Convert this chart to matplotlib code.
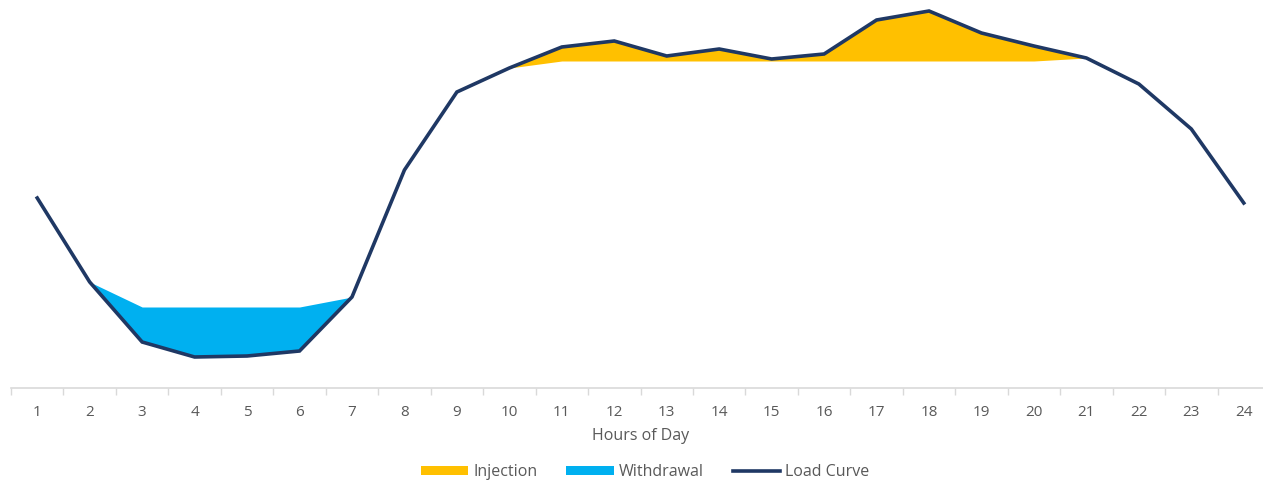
import numpy as np
import matplotlib.pyplot as plt
from matplotlib.patches import Patch
from matplotlib.lines import Line2D

plt.rcParams['font.family'] = ['Open Sans', 'DejaVu Sans']

# Hourly load curve (arbitrary units)
hours = list(range(1, 25))
load = [190, 106, 46, 31, 32, 37, 91, 218, 296, 320, 341, 347,
        332, 339, 329, 334, 368, 377, 355, 342, 330, 304, 259, 185]

# Withdrawal band: hours 2-7, up to the withdrawal level
wd_hours = [2, 3, 4, 5, 6, 7]
wd_top = [106, 81, 81, 81, 81, 91]

# Injection band: hours 10-21, down to the injection level
inj_hours = [10, 11, 12, 13, 14, 15, 16, 17, 18, 19, 20, 21]
inj_base = [320, 327, 327, 327, 327, 327, 327, 327, 327, 327, 327, 330]

navy = '#1F3864'
orange = '#FFC000'
blue = '#00B0F0'
grey = '#595959'

fig = plt.figure(figsize=(12.63, 4.82), dpi=100)
ax = fig.add_axes([11 / 1263, (482 - 388) / 482, 1259 / 1263, 383 / 482])

load_s = dict(zip(hours, load))
ax.fill_between(wd_hours, [load_s[h] for h in wd_hours], wd_top,
                color=blue, linewidth=0, zorder=1)
ax.fill_between(inj_hours, inj_base, [load_s[h] for h in inj_hours],
                color=orange, linewidth=0, zorder=1)
ax.plot(hours, load, color=navy, linewidth=2.6, zorder=3,
        solid_joinstyle='miter')

ax.set_xlim(0.5, 24.5)
ax.set_ylim(0, 383)
ax.set_yticks([])
ax.set_xticks(hours)
ax.set_xticklabels([str(h) for h in hours])
ax.set_xticks(np.arange(0.5, 25, 1), minor=True)
ax.tick_params(axis='x', which='major', length=0, pad=12,
               labelsize=11, labelcolor=grey)
ax.tick_params(axis='x', which='minor', length=5, width=1, color='#D9D9D9')
for s in ['top', 'right', 'left']:
    ax.spines[s].set_visible(False)
ax.spines['bottom'].set_color('#D9D9D9')
ax.spines['bottom'].set_linewidth(1.2)

ax.set_xlabel('Hours of Day', fontsize=11.5, color=grey, labelpad=6)

handles = [Patch(facecolor=orange, label='Injection'),
           Patch(facecolor=blue, label='Withdrawal'),
           Line2D([0], [0], color=navy, linewidth=2.6, label='Load Curve')]
fig.legend(handles=handles, loc='center', bbox_to_anchor=(645 / 1263, 1 - 472 / 482),
           ncol=3, frameon=False, fontsize=11.5, labelcolor=grey,
           handlelength=3.0, handleheight=0.5, handletextpad=0.3, columnspacing=1.8)

fig.savefig('out.png', dpi=100)
